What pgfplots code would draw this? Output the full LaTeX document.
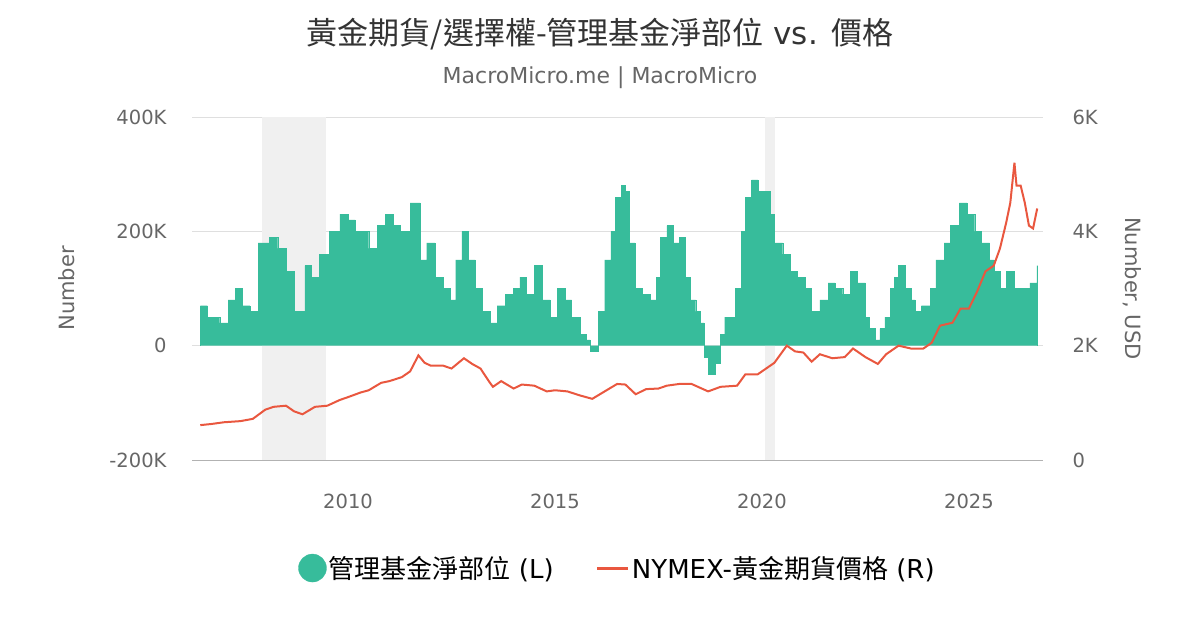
\documentclass[border=0pt]{standalone}
\usepackage{pgfplots}
\pgfplotsset{compat=1.18}
\usepackage{fontspec}
\setmainfont{DejaVu Sans}
\newfontfamily\cjk{Noto Sans CJK TC}
\definecolor{barc}{HTML}{37BC9B}
\definecolor{linec}{HTML}{E9573F}
\definecolor{txt}{HTML}{666666}
\begin{document}
\begin{tikzpicture}[x=1pt,y=1pt]
\path[use as bounding box] (0,0) rectangle (1200,630);
\node[font=\fontsize{31}{34}\selectfont,text=black!80] at (600,596) {{\cjk 黃金期貨/選擇權-管理基金淨部位} vs. {\cjk 價格}};
\node[font=\fontsize{22}{24}\selectfont,text=txt] at (600,552) {MacroMicro.me | MacroMicro};
\begin{axis}[at={(192pt,170pt)},anchor=south west,scale only axis,width=851pt,height=343pt,
  xmin=2006.23,xmax=2026.79,ymin=-200,ymax=400,
  axis y line*=left, axis x line*=bottom, axis line style={draw=none},
  xtick={2010,2015,2020,2025},xticklabels={2010,2015,2020,2025},
  xticklabel style={yshift=-30pt},
  yticklabel style={xshift=-22pt},
  ytick={-200,0,200,400},yticklabels={-200K,0,200K,400K},
  ymajorgrids, grid style={gray!25,line width=1pt},
  tick style={draw=none},
  tick label style={font=\fontsize{19.5}{22}\selectfont,text=txt},
  /pgf/number format/assume math mode=true,
  ylabel={Number},ylabel style={font=\fontsize{21}{24}\selectfont,text=txt,yshift=28pt},
  legend style={at={(0.5,-0.315)},anchor=center,draw=none,font=\fontsize{26}{28}\selectfont,legend columns=2,/tikz/every even column/.append style={column sep=40pt}},
  clip=false]
\fill[gray!12] (axis cs:2007.92,-200) rectangle (axis cs:2009.47,400);
\fill[gray!12] (axis cs:2020.07,-200) rectangle (axis cs:2020.31,400);
\draw[gray!60,line width=1pt] (axis cs:2006.23,-200) -- (axis cs:2026.79,-200);
\addplot[const plot,fill=barc,draw=barc,line width=0.3pt,area legend,
  legend image code/.code={\fill[barc] (0.3cm,0) circle (14pt);\path (0.75cm,0);}] coordinates {
(2006.43,0)(2006.43,70)(2006.6,50)(2006.9,40)(2007.1,80)(2007.27,100)(2007.45,70)(2007.63,60)(2007.83,180)(2008.1,190)(2008.3,170)(2008.5,130)(2008.7,60)(2008.96,140)(2009.1,120)(2009.3,160)(2009.55,200)(2009.8,230)(2010.0,220)(2010.17,200)(2010.5,170)(2010.7,210)(2010.9,230)(2011.1,210)(2011.26,200)(2011.5,250)(2011.74,150)(2011.9,180)(2012.1,120)(2012.3,100)(2012.46,80)(2012.6,150)(2012.75,200)(2012.9,150)(2013.07,100)(2013.25,60)(2013.43,40)(2013.6,70)(2013.8,90)(2014.0,100)(2014.15,120)(2014.3,90)(2014.5,140)(2014.7,80)(2014.88,50)(2015.05,100)(2015.24,80)(2015.4,50)(2015.6,20)(2015.75,10)(2015.85,-10)(2016.04,60)(2016.2,150)(2016.35,200)(2016.45,260)(2016.6,280)(2016.69,270)(2016.8,180)(2016.93,100)(2017.1,90)(2017.3,80)(2017.45,120)(2017.54,190)(2017.7,210)(2017.85,180)(2018.0,190)(2018.15,120)(2018.26,80)(2018.4,60)(2018.5,40)(2018.6,-20)(2018.7,-50)(2018.86,-30)(2019.0,20)(2019.1,50)(2019.35,100)(2019.5,200)(2019.6,260)(2019.75,290)(2019.9,270)(2020.07,270)(2020.2,230)(2020.3,180)(2020.5,160)(2020.68,130)(2020.85,120)(2021.04,100)(2021.2,60)(2021.4,80)(2021.6,110)(2021.76,100)(2021.95,90)(2022.13,130)(2022.3,110)(2022.5,50)(2022.6,30)(2022.73,10)(2022.85,30)(2022.97,50)(2023.1,100)(2023.2,120)(2023.3,140)(2023.45,100)(2023.6,80)(2023.7,60)(2023.85,70)(2024.06,100)(2024.2,150)(2024.4,180)(2024.55,210)(2024.77,250)(2024.95,230)(2025.14,200)(2025.3,180)(2025.5,150)(2025.6,130)(2025.75,100)(2025.9,130)(2026.1,100)(2026.3,100)(2026.47,110)(2026.64,140)(2026.64,0)};
\addlegendentry{{\cjk 管理基金淨部位} (L)}
\addlegendimage{legend image code/.code={\draw[linec,line width=3pt] (0,0) -- (1.1cm,0);}}
\addlegendentry{NYMEX-{\cjk 黃金期貨價格} (R)}
\end{axis}
\begin{axis}[at={(192pt,170pt)},anchor=south west,scale only axis,width=851pt,height=343pt,
  xmin=2006.23,xmax=2026.79,ymin=0,ymax=6,
  axis y line*=right, axis x line=none, axis line style={draw=none},
  ytick={0,2,4,6},yticklabels={0,2K,4K,6K},tick style={draw=none},
  yticklabel style={xshift=26pt},
  tick label style={font=\fontsize{19.5}{22}\selectfont,text=txt},
  /pgf/number format/assume math mode=true,
  ylabel={Number, USD},ylabel style={font=\fontsize{21}{24}\selectfont,text=txt,rotate=180,yshift=18pt}]
\addplot[linec,line width=2pt] coordinates {
(2006.43,0.61)(2006.7,0.63)(2007.0,0.66)(2007.4,0.68)(2007.7,0.72)(2008.0,0.88)(2008.2,0.93)(2008.5,0.95)(2008.7,0.85)(2008.9,0.8)(2009.2,0.93)(2009.5,0.95)(2009.8,1.05)(2010.0,1.1)(2010.3,1.18)(2010.5,1.22)(2010.8,1.35)(2011.0,1.38)(2011.3,1.45)(2011.5,1.55)(2011.7,1.83)(2011.85,1.7)(2012.0,1.65)(2012.3,1.65)(2012.5,1.6)(2012.8,1.78)(2013.0,1.68)(2013.2,1.6)(2013.4,1.38)(2013.5,1.28)(2013.7,1.38)(2014.0,1.25)(2014.2,1.32)(2014.5,1.3)(2014.8,1.2)(2015.0,1.22)(2015.3,1.2)(2015.6,1.13)(2015.9,1.07)(2016.2,1.2)(2016.5,1.33)(2016.7,1.32)(2016.95,1.15)(2017.2,1.24)(2017.5,1.25)(2017.7,1.3)(2018.0,1.33)(2018.3,1.33)(2018.7,1.2)(2019.0,1.28)(2019.4,1.3)(2019.6,1.5)(2019.9,1.5)(2020.1,1.6)(2020.3,1.7)(2020.6,2.0)(2020.8,1.9)(2021.0,1.88)(2021.2,1.72)(2021.4,1.85)(2021.7,1.78)(2022.0,1.8)(2022.2,1.95)(2022.5,1.8)(2022.8,1.68)(2023.0,1.85)(2023.3,2.0)(2023.6,1.95)(2023.9,1.95)(2024.1,2.05)(2024.3,2.35)(2024.6,2.4)(2024.8,2.65)(2025.0,2.65)(2025.2,2.95)(2025.4,3.3)(2025.6,3.4)(2025.75,3.7)(2025.9,4.15)(2026.0,4.5)(2026.1,5.2)(2026.15,4.8)(2026.25,4.8)(2026.35,4.5)(2026.45,4.1)(2026.55,4.05)(2026.65,4.4)};
\end{axis}
\end{tikzpicture}
\end{document}
